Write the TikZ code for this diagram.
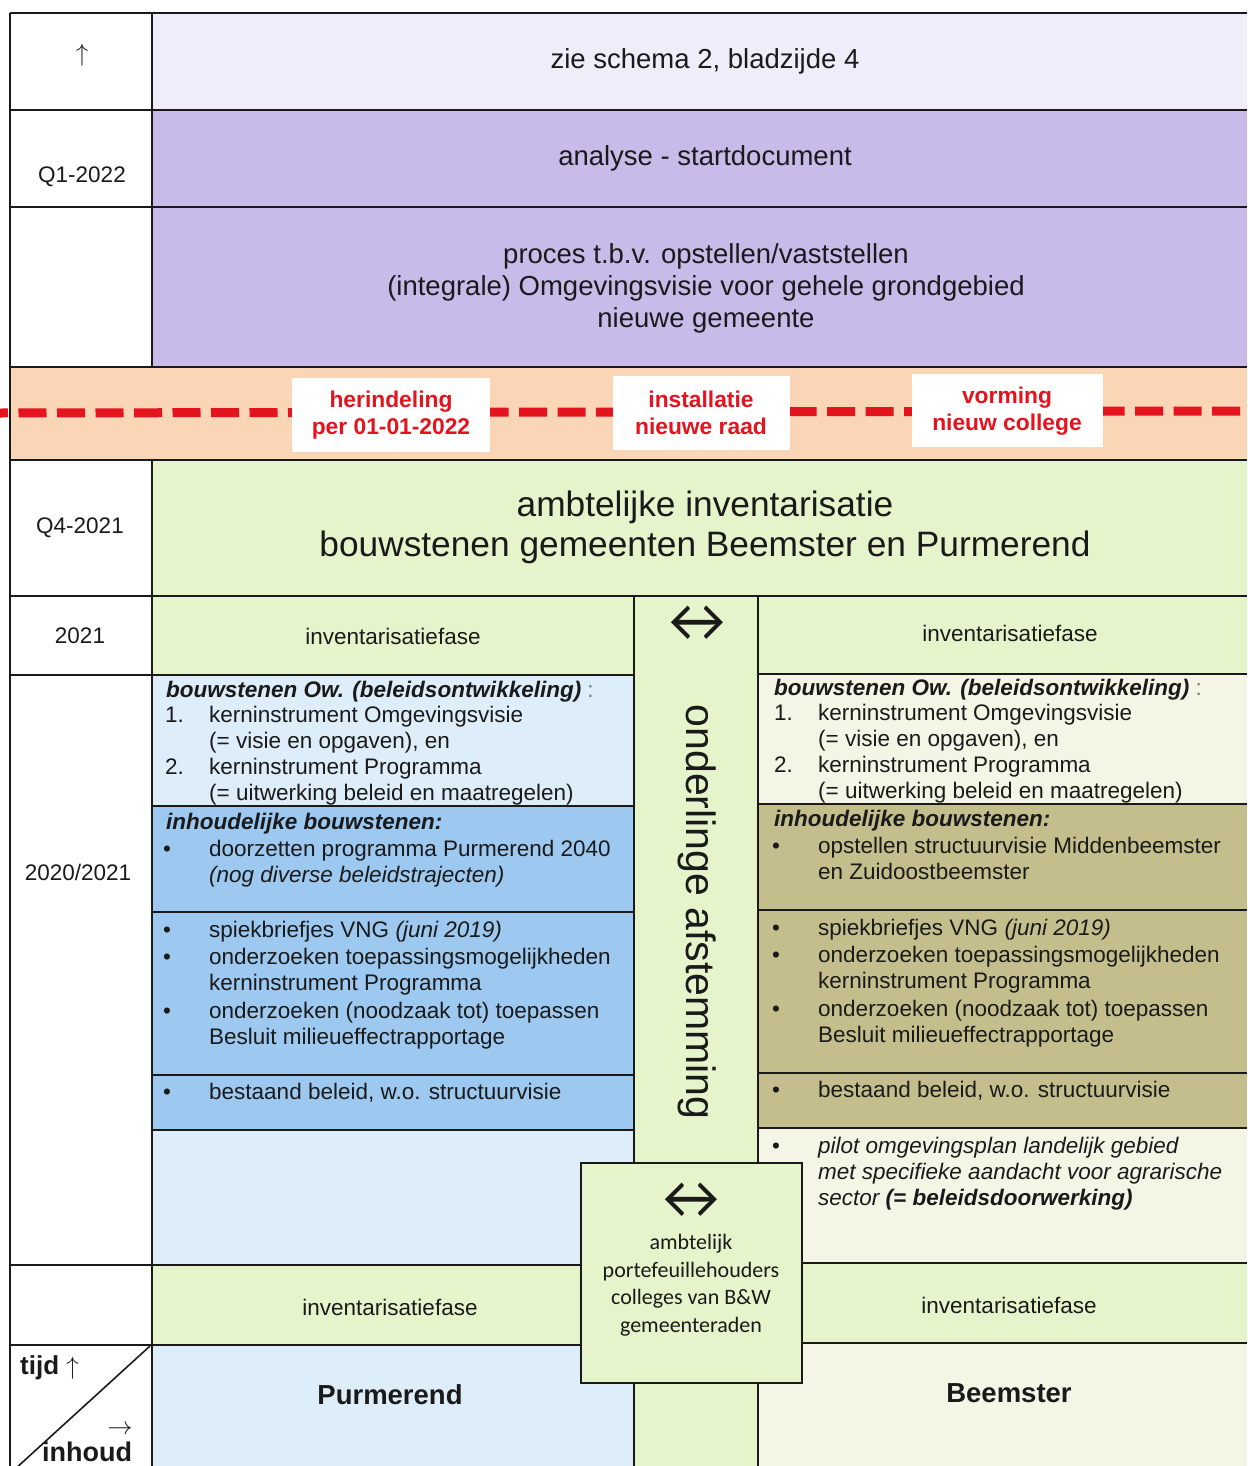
\documentclass[tikz,border=0pt]{standalone}
\usepackage{fontspec}
\setmainfont{Liberation Sans}
\newfontfamily\calfont{Carlito}
\definecolor{lavpale}{HTML}{F0ECFA}
\definecolor{lav}{HTML}{C8BBEA}
\definecolor{peach}{HTML}{FBD6B6}
\definecolor{grn}{HTML}{E6F4CC}
\definecolor{lblue}{HTML}{DDEEFA}
\definecolor{mblue}{HTML}{9DC8F0}
\definecolor{ivory}{HTML}{F5F5E6}
\definecolor{khaki}{HTML}{C4BE8C}
\definecolor{redd}{HTML}{E3141E}
\definecolor{ink}{HTML}{1A1A1A}
\begin{document}
\begin{tikzpicture}[x=1pt,y=-1pt,
  grid/.style={line width=1.6pt, draw=ink},
  ctext/.style={inner sep=0, text=ink, align=center, font=\fontsize{22.5}{25.7}\selectfont},
  ln/.style={anchor=base west, inner sep=0, text=ink, font=\fontsize{22.5}{25.7}\selectfont},
  big/.style={inner sep=0, align=center, text=ink, font=\fontsize{27.5}{32}\selectfont},
  redlab/.style={inner sep=0, align=center, text=redd, font=\bfseries\fontsize{22.8}{27.5}\selectfont},
  calt/.style={inner sep=0, align=center, text=ink, font=\calfont\fontsize{22}{27.5}\selectfont},
]
\useasboundingbox (0,0) rectangle (1247,1466);
\clip (0,0) rectangle (1247,1466);
\fill[white] (0,0) rectangle (1247,1466);
% ---------- fills
\fill[lavpale] (152,13) rectangle (1247,110);
\fill[lav] (152,110) rectangle (1247,367);
\fill[peach] (10,367) rectangle (1247,460);
\fill[grn] (152,460) rectangle (1247,596);
\fill[grn] (152,596) rectangle (634,675);
\fill[grn] (634,596) rectangle (758,1466);
\fill[grn] (758,596) rectangle (1247,674);
\fill[lblue] (152,675) rectangle (634,806);
\fill[mblue] (152,806) rectangle (634,1130);
\fill[lblue] (152,1130) rectangle (634,1265);
\fill[grn] (152,1265) rectangle (634,1345);
\fill[lblue] (152,1345) rectangle (634,1466);
\fill[ivory] (758,674) rectangle (1247,804);
\fill[khaki] (758,804) rectangle (1247,1128);
\fill[ivory] (758,1128) rectangle (1247,1263);
\fill[grn] (758,1263) rectangle (1247,1343);
\fill[ivory] (758,1343) rectangle (1247,1466);
% ---------- red dashed line and white labels
\draw[redd, line width=9pt, dash pattern=on 28pt off 10.5pt, dash phase=20pt] (0,413) -- (1247,411);
\fill[white] (292,378) rectangle (490,452);
\fill[white] (613,376) rectangle (790,450);
\fill[white] (912,374) rectangle (1103,447);
% ---------- grid lines
\draw[grid] (10,13) -- (1247,13);
\draw[grid] (10,13) -- (10,1466);
\draw[grid] (152,13) -- (152,367);
\draw[grid] (152,460) -- (152,1466);
\foreach \yy in {110,207,367,460,596} \draw[grid] (10,\yy) -- (1247,\yy);
\draw[grid] (10,675) -- (634,675);
\draw[grid] (758,674) -- (1247,674);
\foreach \yy in {806,912,1075,1130} \draw[grid] (152,\yy) -- (634,\yy);
\foreach \yy in {804,910,1073,1128} \draw[grid] (758,\yy) -- (1247,\yy);
\draw[grid] (10,1265) -- (634,1265);
\draw[grid] (758,1263) -- (1247,1263);
\draw[grid] (10,1345) -- (634,1345);
\draw[grid] (758,1343) -- (1247,1343);
\draw[grid] (634,596) -- (634,1466);
\draw[grid] (758,596) -- (758,1466);
\draw[grid] (150,1346) -- (14,1470);
% ---------- label column
\node[inner sep=0, text=ink, font=\fontsize{24}{28}\selectfont] (up) at (82,55) {$\uparrow$};
\node[ctext] (q1) at (82,177) {Q1-2022};
\node[ctext] (q4) at (80,528) {Q4-2021};
\node[ctext] (y21) at (80,636) {2021};
\node[ctext] (y2021) at (78,872) {2020/2021};
\node[anchor=base west, inner sep=0, text=ink, font=\fontsize{26}{30}\selectfont] (tijd) at (20,1374) {\textbf{tijd} $\uparrow$};
\node[inner sep=0, text=ink, font=\fontsize{26}{30}\selectfont] (rarr) at (120,1430) {$\rightarrow$};
\node[anchor=base west, inner sep=0, text=ink, font=\bfseries\fontsize{27}{30}\selectfont] (inh) at (42,1461) {inhoud};
% ---------- top rows
\node[big] (zie) at (705,61) {zie schema 2, bladzijde 4};
\node[big] (ana) at (705,158) {analyse - startdocument};
\node[big] (proc) at (706,288) {proces t.b.v. opstellen/vaststellen\\(integrale) Omgevingsvisie voor gehele grondgebied\\nieuwe gemeente};
\node[redlab] (her) at (391,415) {herindeling\\per 01-01-2022};
\node[redlab] (ins) at (701,413) {installatie\\nieuwe raad};
\node[redlab] (vor) at (1007,411) {vorming\\nieuw college};
\node[inner sep=0, align=center, text=ink, font=\fontsize{35.3}{40}\selectfont] (amb) at (705,527) {ambtelijke inventarisatie\\bouwstenen gemeenten Beemster en Purmerend};
\node[ctext] (invL) at (393,636) {inventarisatiefase};
\node[ctext] (invR) at (1010,633) {inventarisatiefase};
% ---------- middle column
\node[inner sep=0, text=ink, font=\calfont\fontsize{62}{62}\selectfont] (marr) at (697,624) {↔};
\node[rotate=-90, inner sep=0, text=ink, font=\fontsize{41}{41}\selectfont] (vt) at (697,912) {onderlinge afstemming};
% ---------- left column texts
\node[ln] (la0) at (166,697) {\textbf{\textit{bouwstenen Ow. (beleidsontwikkeling)}} \textcolor{ink!60}{:}};
\node[ln] (la1n) at (165,722) {1.};
\node[ln] (la1) at (209,722) {kerninstrument Omgevingsvisie};
\node[ln] (la2) at (209,748) {(= visie en opgaven), en};
\node[ln] (la3n) at (165,774) {2.};
\node[ln] (la3) at (209,774) {kerninstrument Programma};
\node[ln] (la4) at (209,800) {(= uitwerking beleid en maatregelen)};
\node[ln] (lb0) at (166,829) {\textbf{\textit{inhoudelijke bouwstenen:}}};
\node[ln] (lb1b) at (163,856) {•};
\node[ln] (lb1) at (209,856) {doorzetten programma Purmerend 2040};
\node[ln] (lb2) at (209,882) {\textit{(nog diverse beleidstrajecten)}};
\node[ln] (lc1b) at (163,937) {•};
\node[ln] (lc1) at (209,937) {spiekbriefjes VNG \textit{(juni 2019)}};
\node[ln] (lc2b) at (163,964) {•};
\node[ln] (lc2) at (209,964) {onderzoeken toepassingsmogelijkheden};
\node[ln] (lc3) at (209,990) {kerninstrument Programma};
\node[ln] (lc4b) at (163,1018) {•};
\node[ln] (lc4) at (209,1018) {onderzoeken (noodzaak tot) toepassen};
\node[ln] (lc5) at (209,1044) {Besluit milieueffectrapportage};
\node[ln] (ld1b) at (163,1099) {•};
\node[ln] (ld1) at (209,1099) {bestaand beleid, w.o. structuurvisie};
% ---------- right column texts
\node[ln] (ra0) at (774,695) {\textbf{\textit{bouwstenen Ow. (beleidsontwikkeling)}} \textcolor{ink!60}{:}};
\node[ln] (ra1n) at (774,720) {1.};
\node[ln] (ra1) at (818,720) {kerninstrument Omgevingsvisie};
\node[ln] (ra2) at (818,746) {(= visie en opgaven), en};
\node[ln] (ra3n) at (774,772) {2.};
\node[ln] (ra3) at (818,772) {kerninstrument Programma};
\node[ln] (ra4) at (818,798) {(= uitwerking beleid en maatregelen)};
\node[ln] (rb0) at (774,826) {\textbf{\textit{inhoudelijke bouwstenen:}}};
\node[ln] (rb1b) at (772,853) {•};
\node[ln] (rb1) at (818,853) {opstellen structuurvisie Middenbeemster};
\node[ln] (rb2) at (818,879) {en Zuidoostbeemster};
\node[ln] (rc1b) at (772,935) {•};
\node[ln] (rc1) at (818,935) {spiekbriefjes VNG \textit{(juni 2019)}};
\node[ln] (rc2b) at (772,962) {•};
\node[ln] (rc2) at (818,962) {onderzoeken toepassingsmogelijkheden};
\node[ln] (rc3) at (818,988) {kerninstrument Programma};
\node[ln] (rc4b) at (772,1016) {•};
\node[ln] (rc4) at (818,1016) {onderzoeken (noodzaak tot) toepassen};
\node[ln] (rc5) at (818,1042) {Besluit milieueffectrapportage};
\node[ln] (rd1b) at (772,1097) {•};
\node[ln] (rd1) at (818,1097) {bestaand beleid, w.o. structuurvisie};
\node[ln] (re1b) at (772,1153) {•};
\node[ln] (re1) at (818,1153) {\textit{pilot omgevingsplan landelijk gebied}};
\node[ln] (re2) at (818,1179) {\textit{met specifieke aandacht voor agrarische}};
\node[ln] (re3) at (818,1205) {\textit{sector \textbf{(= beleidsdoorwerking)}}};
% ---------- bottom rows
\node[ctext] (invL2) at (390,1307) {inventarisatiefase};
\node[ctext] (invR2) at (1009,1305) {inventarisatiefase};
\node[inner sep=0, text=ink, font=\bfseries\fontsize{27.5}{32}\selectfont] (pur) at (390,1395) {Purmerend};
\node[inner sep=0, text=ink, font=\bfseries\fontsize{27.5}{32}\selectfont] (bee) at (1009,1393) {Beemster};
% ---------- middle box
\node[draw=ink, line width=1.6pt, fill=grn, minimum width=221pt, minimum height=220pt, inner sep=0] (mbox) at (691.5,1273) {};
\node[inner sep=0, text=ink, font=\calfont\fontsize{62}{62}\selectfont] (barr) at (691,1201) {↔};
\node[calt] (btxt) at (691,1285) {ambtelijk\\portefeuillehouders\\colleges van B\&W\\gemeenteraden};
\end{tikzpicture}
\end{document}
